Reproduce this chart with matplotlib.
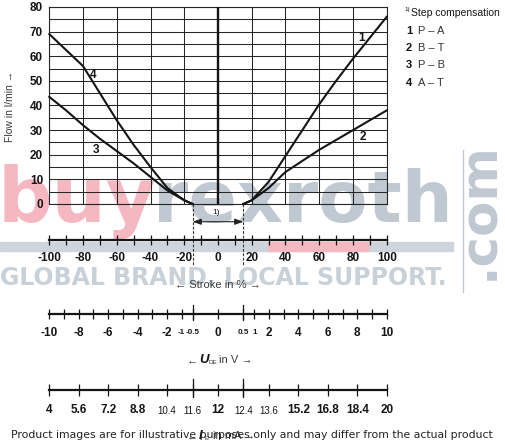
import numpy as np
import matplotlib
matplotlib.use("Agg")
import matplotlib.pyplot as plt
from matplotlib.patches import Rectangle
from matplotlib.lines import Line2D

plt.rcParams['font.family'] = ['Liberation Sans', 'DejaVu Sans']

W, H, DPI = 506, 446, 100

# ---------------- data ----------------
stroke_pos = [15, 20, 30, 40, 50, 60, 70, 80, 90, 100]
flow_PA = [0, 1.5, 9, 19.5, 30, 40.5, 50, 59, 67.5, 76]       # curve 1
flow_BT = [0, 1.5, 6.5, 13, 17.5, 22, 26, 30, 34, 38]          # curve 2
stroke_neg = [-100, -90, -80, -70, -60, -50, -40, -30, -20, -15]
flow_PB = [43.5, 38, 32, 26.5, 21.5, 16.5, 11, 5.5, 1.5, 0]    # curve 3
flow_AT = [69, 62.5, 56, 45, 34, 24, 15, 6.5, 1.5, 0]          # curve 4

flow_ticks = [0, 10, 20, 30, 40, 50, 60, 70, 80]
stroke_ticks = [-100, -80, -60, -40, -20, 0, 20, 40, 60, 80, 100]
step_comp = [-15, 15]

volt_anchor = [-10, -1, -0.5, 0, 0.5, 1, 10]
stroke_anchor = [-100, -21.5, -15, 0, 15, 21.5, 100]
volt_ticks = [-10, -9, -8, -7, -6, -5, -4, -3, -2, 0, 2, 3, 4, 5, 6, 7, 8, 9, 10]
volt_labels = ['-10', '', '-8', '', '-6', '', '-4', '', '-2', '0', '2', '', '4', '', '6', '', '8', '', '10']
volt_small = [-1, -0.5, 0.5, 1]
volt_small_labels = ['-1', '-0.5', '0.5', '1']
volt_long = [-0.5, 0.5]

cur_ticks = [4, 5.6, 7.2, 8.8, 12, 15.2, 16.8, 18.4, 20]
cur_labels = ['4', '5.6', '7.2', '8.8', '12', '15.2', '16.8', '18.4', '20']
cur_small = [10.4, 11.6, 12.4, 13.6]
cur_small_labels = ['10.4', '11.6', '12.4', '13.6']
cur_long = [11.6, 12.4]

legend_nums = ['1', '2', '3', '4']
legend_paths = ['P – A', 'B – T', 'P – B', 'A – T']

# ---------------- helpers ----------------
def fx(px):
    return px / W

def fy(py):
    return 1 - py / H

fig = plt.figure(figsize=(W / DPI, H / DPI), dpi=DPI)
fig.patch.set_facecolor('white')

X0, X1 = 49.3, 386.7
ink = '#151515'

# ---------------- watermark (behind) ----------------
pink = '#f5b8c1'
wgray = '#c0c9d2'
fig.text(fx(-2), fy(222), 'buy', fontsize=55, fontweight='bold', color=pink,
         family='DejaVu Sans', ha='left', va='baseline', zorder=-5)
fig.text(fx(153), fy(222), 'rexroth', fontsize=51.5, fontweight='bold', color=wgray,
         family='DejaVu Sans', ha='left', va='baseline', zorder=-5)
fig.text(fx(0), fy(285), 'GLOBAL BRAND. LOCAL SUPPORT.', fontsize=17, fontweight='bold',
         color='#c8d0d8', family='DejaVu Sans', ha='left', va='baseline', zorder=-5)
fig.text(fx(504), fy(280), '.com', fontsize=37, fontweight='bold', color=wgray,
         family='DejaVu Sans', rotation=90, ha='right', va='bottom', zorder=-5)
fig.patches.append(Rectangle((fx(0), fy(251)), fx(453), 9 / H, transform=fig.transFigure,
                             color='#cdd4db', zorder=-5))
fig.patches.append(Rectangle((fx(268), fy(251)), fx(100), 9 / H, transform=fig.transFigure,
                             color=pink, zorder=-4))
fig.lines.append(Line2D([fx(463), fx(463)], [fy(150), fy(292)], transform=fig.transFigure,
                        color=wgray, lw=1, zorder=-5))

# ---------------- main chart ----------------
ax = fig.add_axes([fx(X0), fy(204), (X1 - X0) / W, (204 - 7) / H])
ax.patch.set_alpha(0)
ax.set_xlim(-100, 100)
ax.set_ylim(0, 80)
ax.set_xticks(stroke_ticks)
ax.set_xticklabels([])
ax.set_yticks(flow_ticks)
ax.set_yticks(np.arange(0, 81, 5), minor=True)
ax.set_yticklabels([str(v) for v in flow_ticks], fontweight='bold', fontsize=8.5, color=ink)
ax.tick_params(which='both', length=0, pad=4.5)
ax.grid(which='both', color='#262626', lw=0.75)
for s in ax.spines.values():
    s.set_color('#262626')
    s.set_linewidth(0.8)
ax.axvline(0, color=ink, lw=1.7, zorder=3)

ax.plot(stroke_pos, flow_PA, color=ink, lw=1.5, zorder=4, clip_on=False)
ax.plot(stroke_pos, flow_BT, color=ink, lw=1.5, zorder=4, clip_on=False)
ax.plot(stroke_neg, flow_PB, color=ink, lw=1.5, zorder=4, clip_on=False)
ax.plot(stroke_neg, flow_AT, color=ink, lw=1.5, zorder=4, clip_on=False)

for lbl, (x, y) in zip(['1', '2', '4', '3'], [(85, 67.3), (86, 27.3), (-73.8, 52.4), (-72.2, 21.9)]):
    ax.text(x, y, lbl, fontweight='bold', fontsize=8.5, ha='center', va='center', color=ink)

for xs in step_comp:
    ax.plot([xs, xs], [0, -25], color='#333333', lw=0.8, ls=(0, (2.5, 1.5)), clip_on=False)
ax.annotate('', xy=(-15, -7.2), xytext=(15, -7.2), annotation_clip=False,
            arrowprops=dict(arrowstyle='<|-|>,head_length=0.5,head_width=0.18',
                            color='#222222', lw=0.8, shrinkA=0, shrinkB=0))
ax.text(-1, -3.3, '1)', fontsize=6, ha='center', va='center', color=ink, clip_on=False)

fig.text(fx(10), fy(107), 'Flow in l/min →', rotation=90, fontsize=7.5, color='#3a3a3a',
         ha='center', va='center')

# ---------------- lower scales ----------------
def scale_axes(y_line):
    a = fig.add_axes([fx(X0), fy(y_line), (X1 - X0) / W, 8 / H])
    a.patch.set_alpha(0)
    for k in ('top', 'left', 'right'):
        a.spines[k].set_visible(False)
    a.spines['bottom'].set_linewidth(1.6)
    a.spines['bottom'].set_color(ink)
    a.set_yticks([])
    return a

# stroke
axS = scale_axes(240)
axS.set_xlim(-100, 100)
axS.set_xticks(stroke_ticks)
axS.set_xticklabels([f'{v:g}' for v in stroke_ticks], fontweight='bold', fontsize=8.5, color=ink)
axS.set_xticks(np.arange(-100, 101, 10), minor=True)
axS.tick_params(which='both', direction='inout', length=7, width=0.9, color=ink, pad=5)
fig.text(fx(218), fy(285), '← Stroke in % →', fontsize=8, color='#3a3a3a', ha='center', va='center')

# voltage
fwdV = lambda u: np.interp(u, volt_anchor, stroke_anchor)
invV = lambda s: np.interp(s, stroke_anchor, volt_anchor)
axV = scale_axes(314)
axV.set_xscale('function', functions=(fwdV, invV))
axV.set_xlim(-10, 10)
axV.set_xticks(volt_ticks, volt_labels, fontweight='bold', fontsize=8.5, color=ink)
axV.set_xticks(volt_small, volt_small_labels, minor=True, fontweight='bold', fontsize=5.8, color=ink)
axV.tick_params(which='major', direction='inout', length=7, width=0.9, color=ink, pad=5.5)
axV.tick_params(which='minor', direction='inout', length=7, width=0.9, color=ink, pad=7.2)
for v in volt_long:
    axV.axvline(v, ymin=-0.8, ymax=1.15, color=ink, lw=0.9, clip_on=False)

fig.text(fx(187), fy(360), '←', fontsize=8, color='#3a3a3a', ha='left', va='center')
fig.text(fx(199), fy(360), 'U', fontsize=9.5, fontweight='bold', style='italic', color=ink, ha='left', va='center')
fig.text(fx(209), fy(363), 'DE', fontsize=4.5, color='#3a3a3a', ha='left', va='center')
fig.text(fx(219), fy(360), 'in V →', fontsize=8, color='#3a3a3a', ha='left', va='center')

# current
cur_anchor = [12 + 0.8 * v for v in volt_anchor]
fwdI = lambda i: np.interp(i, cur_anchor, stroke_anchor)
invI = lambda s: np.interp(s, stroke_anchor, cur_anchor)
axI = scale_axes(390)
axI.set_xscale('function', functions=(fwdI, invI))
axI.set_xlim(4, 20)
axI.set_xticks(cur_ticks, cur_labels, fontweight='bold', fontsize=8.5, color=ink)
axI.set_xticks(cur_small, cur_small_labels, minor=True, fontsize=7, color=ink)
axI.tick_params(which='major', direction='inout', length=8, width=0.9, color=ink, pad=6)
axI.tick_params(which='minor', direction='inout', length=8, width=0.9, color=ink, pad=7.2)
for c in cur_long:
    axI.axvline(c, ymin=-0.9, ymax=1.35, color=ink, lw=0.9, clip_on=False)

fig.text(fx(187), fy(436), '←', fontsize=8, color='#3a3a3a', ha='left', va='center')
fig.text(fx(199), fy(436), 'I', fontsize=9.5, fontweight='bold', style='italic', color=ink, ha='left', va='center')
fig.text(fx(205), fy(439), 'E', fontsize=4.5, color='#3a3a3a', ha='left', va='center')
fig.text(fx(213), fy(436), 'in mA →', fontsize=8, color='#3a3a3a', ha='left', va='center')

# ---------------- legend ----------------
fig.text(fx(404), fy(10), '1)', fontsize=4.5, color=ink, ha='left', va='center')
fig.text(fx(411), fy(13), 'Step compensation', fontsize=7.5, color=ink, ha='left', va='center')
for k, (n, p) in enumerate(zip(legend_nums, legend_paths)):
    yy = 31 + k * 17.2
    fig.text(fx(406), fy(yy), n, fontsize=8, fontweight='bold', color=ink, ha='left', va='center')
    fig.text(fx(418), fy(yy), p, fontsize=8, color='#333333', ha='left', va='center')

# ---------------- disclaimer ----------------
fig.text(fx(11), fy(435), 'Product images are for illustrative purposes only and may differ from the actual product',
         fontsize=7.8, family='DejaVu Sans', color='#222222', ha='left', va='center', zorder=10)

fig.savefig('out.png', dpi=DPI)
